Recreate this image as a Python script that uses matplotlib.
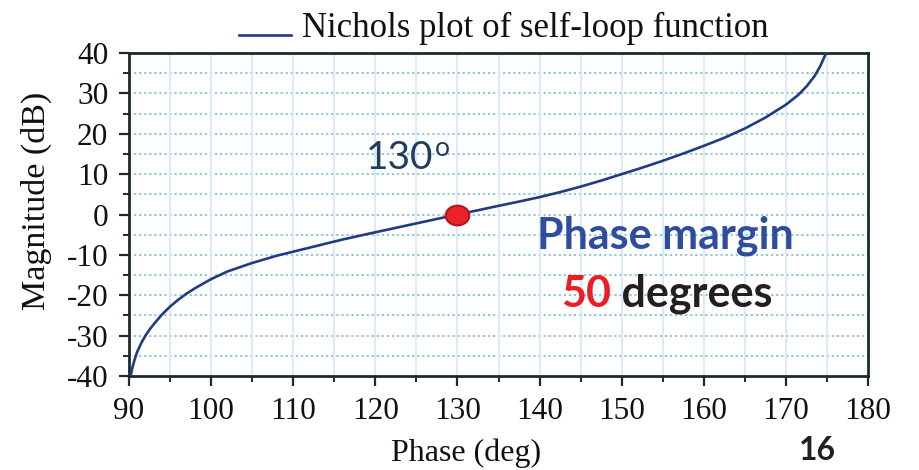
import numpy as np
import matplotlib
matplotlib.use("Agg")
import matplotlib.pyplot as plt
from matplotlib.markers import MarkerStyle
from matplotlib.path import Path
from matplotlib.transforms import Affine2D
from matplotlib.ticker import MultipleLocator
from matplotlib.legend_handler import HandlerLine2D
from matplotlib.lines import Line2D

plt.rcParams["axes.unicode_minus"] = False

# Nichols trace of the self-loop function: phase (deg) vs magnitude (dB)
phase_deg = [90.2, 90.4, 90.7, 91.0, 91.5, 92.0, 92.5, 93.0, 94.0, 95.0,
             96.0, 97.0, 98.0, 100.0, 102.0, 105.0, 108.0, 110.0, 113.0,
             116.0, 120.0, 125.0, 130.0, 132.5, 135.0, 137.5, 140.0, 142.5,
             145.0, 147.5, 150.0, 152.5, 155.0, 157.5, 160.0, 162.5, 165.0,
             167.5, 170.0, 171.5, 172.5, 173.5, 174.2, 174.9]
magnitude_db = [-40.0, -38.0, -35.8, -34.0, -31.8, -30.0, -28.5, -27.2,
                -24.8, -22.8, -21.1, -19.6, -18.3, -16.0, -14.1, -12.0,
                -10.2, -9.2, -7.7, -6.2, -4.4, -2.2, 0.0, 1.05, 2.15, 3.2,
                4.3, 5.55, 6.9, 8.4, 10.0, 11.6, 13.3, 15.1, 17.0, 19.0,
                21.3, 24.0, 27.2, 29.6, 31.7, 34.3, 36.8, 40.0]

# crossover point (0 dB)
cross_phase = 130
cross_mag = 0

legend_label = "Nichols plot of self-loop function"
x_ticks = [90, 100, 110, 120, 130, 140, 150, 160, 170, 180]
y_ticks = [-40, -30, -20, -10, 0, 10, 20, 30, 40]

serif = ["Liberation Serif", "DejaVu Serif"]
sans = ["Lato", "DejaVu Sans"]
dark = "#1c2a2c"
curve_color = "#213c80"


class BaselineLineHandler(HandlerLine2D):
    """Legend line sample drawn near the text baseline."""

    def create_artists(self, legend, orig_handle, xdescent, ydescent,
                       width, height, fontsize, trans):
        artists = super().create_artists(legend, orig_handle, xdescent,
                                         ydescent, width, height, fontsize,
                                         trans)
        for a in artists:
            a.set_ydata(np.asarray(a.get_ydata()) - 0.42 * height)
        return artists


fig = plt.figure(figsize=(9.19, 4.70), dpi=100)
ax = fig.add_axes([0.1404, 0.200, 0.8041, 0.6872])

ax.set_xlim(90, 180)
ax.set_ylim(-40, 40)
ax.set_xticks(x_ticks)
ax.set_yticks(y_ticks)
ax.xaxis.set_minor_locator(MultipleLocator(5))
ax.yaxis.set_minor_locator(MultipleLocator(5))

# grid: dotted horizontals, faint solid verticals every 5 units
for yv in range(-35, 40, 5):
    ax.axhline(yv, color="#86bedb", lw=1.3, ls=(0, (1.2, 1.6)), zorder=1)
for xv in range(95, 180, 5):
    ax.axvline(xv, color="#d6e9f4", lw=1.3, zorder=1)

ax.plot(phase_deg, magnitude_db, color=curve_color, lw=1.9, zorder=3,
        label=legend_label, solid_joinstyle="round")

# slightly elliptical marker at the crossover
ell = Path.unit_circle().transformed(Affine2D().scale(1.2, 1.0))
ax.plot([cross_phase], [cross_mag], ls="none", marker=MarkerStyle(ell),
        ms=17, mfc="#e8232a", mec="#b8151d", mew=1.5, zorder=4,
        clip_on=False)

for s in ax.spines.values():
    s.set_color(dark)
    s.set_linewidth(2.0)

ax.tick_params(which="major", direction="out", length=7, width=1.6,
               color=dark, labelsize=22.5, pad=8, labelcolor="#111111")
ax.tick_params(which="minor", direction="out", length=4, width=1.4,
               color=dark)
for lab in ax.get_xticklabels() + ax.get_yticklabels():
    lab.set_fontfamily(serif)

ax.set_xlabel("Phase (deg)", fontsize=23, family=serif, color="#111111")
ax.xaxis.set_label_coords(0.456, -0.192)
ax.set_ylabel("Magnitude (dB)", fontsize=24.5, family=serif,
              color="#111111")
ax.yaxis.set_label_coords(-0.104, 0.542)

leg = ax.legend(loc="center", bbox_to_anchor=(0.507, 1.075), frameon=False,
                prop={"family": serif, "size": 25}, handlelength=1.5,
                handletextpad=0.3, borderaxespad=0,
                handler_map={Line2D: BaselineLineHandler()})
for t in leg.get_texts():
    t.set_color("#111111")

# annotations
t130 = ax.text(123.0, 14.0, "130", fontsize=28, family=sans,
               color="#1f3d5e", ha="center", va="center")
ax.annotate("o", xy=(1.0, 1.0), xycoords=t130, xytext=(0.5, 3),
            textcoords="offset points", ha="left", va="top",
            fontsize=19, family=sans, color="#1f3d5e")

ax.text(139.7, -5.3, "Phase margin", fontsize=31, family=sans,
        fontweight="bold", color="#2e4d9e", ha="left", va="center")
t50 = ax.text(142.6, -19.6, "50", fontsize=31, family=sans,
              fontweight="bold", color="#ec1c24", ha="left", va="center")
ax.annotate(" degrees", xy=(1.0, 0.0), xycoords=t50, ha="left", va="bottom",
            fontsize=31, family=sans, fontweight="bold", color="#231f20")

fig.text(817 / 919, 1 - 450 / 470, "16", fontsize=23, family=sans,
         fontweight="bold", color="#231f20", ha="center", va="center")

fig.savefig("out.png", dpi=100, facecolor="white")
